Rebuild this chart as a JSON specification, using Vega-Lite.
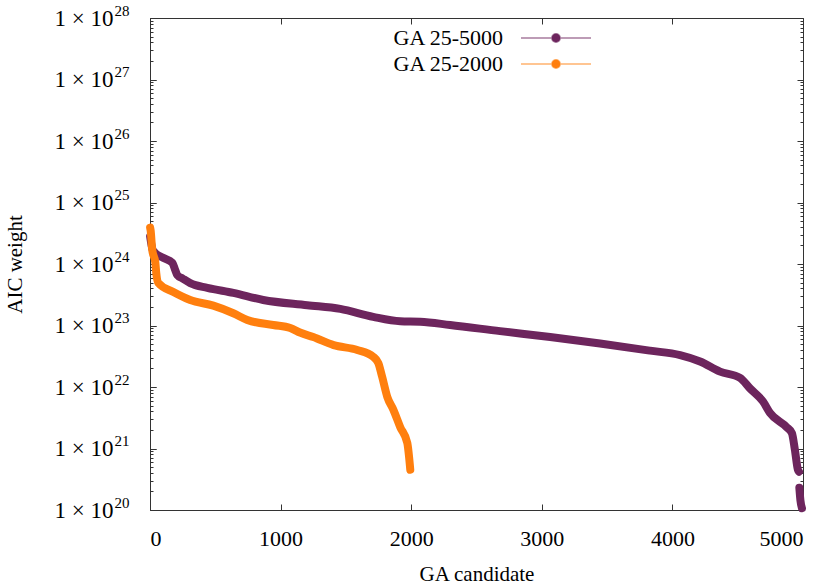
{
  "$schema": "https://vega.github.io/schema/vega-lite/v6.json",
  "autosize": "none",
  "width": 653,
  "height": 492,
  "padding": {"left": 150, "top": 18, "right": 27, "bottom": 76},
  "background": "white",
  "data": {
    "values": [
      {"series": "GA 25-5000", "x": 1, "w": 2.8e24},
      {"series": "GA 25-5000", "x": 20, "w": 1.7e24},
      {"series": "GA 25-5000", "x": 41, "w": 1.5e24},
      {"series": "GA 25-5000", "x": 100, "w": 1.26e24},
      {"series": "GA 25-5000", "x": 171, "w": 1.05e24},
      {"series": "GA 25-5000", "x": 190, "w": 8.3e23},
      {"series": "GA 25-5000", "x": 209, "w": 6.6e23},
      {"series": "GA 25-5000", "x": 250, "w": 5.8e23},
      {"series": "GA 25-5000", "x": 308, "w": 4.9e23},
      {"series": "GA 25-5000", "x": 439, "w": 4.1e23},
      {"series": "GA 25-5000", "x": 638, "w": 3.4e23},
      {"series": "GA 25-5000", "x": 867, "w": 2.6e23},
      {"series": "GA 25-5000", "x": 1204, "w": 2.14e23},
      {"series": "GA 25-5000", "x": 1457, "w": 1.86e23},
      {"series": "GA 25-5000", "x": 1709, "w": 1.38e23},
      {"series": "GA 25-5000", "x": 1916, "w": 1.17e23},
      {"series": "GA 25-5000", "x": 2069, "w": 1.15e23},
      {"series": "GA 25-5000", "x": 2298, "w": 1.02e23},
      {"series": "GA 25-5000", "x": 2681, "w": 8.1e22},
      {"series": "GA 25-5000", "x": 3064, "w": 6.5e22},
      {"series": "GA 25-5000", "x": 3446, "w": 5.1e22},
      {"series": "GA 25-5000", "x": 3829, "w": 3.9e22},
      {"series": "GA 25-5000", "x": 4059, "w": 3.3e22},
      {"series": "GA 25-5000", "x": 4212, "w": 2.6e22},
      {"series": "GA 25-5000", "x": 4365, "w": 1.78e22},
      {"series": "GA 25-5000", "x": 4518, "w": 1.41e22},
      {"series": "GA 25-5000", "x": 4594, "w": 9.5e21},
      {"series": "GA 25-5000", "x": 4694, "w": 5.8e21},
      {"series": "GA 25-5000", "x": 4747, "w": 3.8e21},
      {"series": "GA 25-5000", "x": 4877, "w": 2.2e21},
      {"series": "GA 25-5000", "x": 4915, "w": 1.78e21},
      {"series": "GA 25-5000", "x": 4938, "w": 9.5e20},
      {"series": "GA 25-5000", "x": 4961, "w": 4.5e20},
      {"series": "GA 25-5000", "x": 4969, "w": 4.2e20},
      {"series": "GA 25-5000", "x": 4970, "w": null},
      {"series": "GA 25-5000", "x": 4972, "w": 2.3e20},
      {"series": "GA 25-5000", "x": 4980, "w": 1.45e20},
      {"series": "GA 25-5000", "x": 4992, "w": 1.07e20},
      {"series": "GA 25-2000", "x": 1, "w": 3.9e24},
      {"series": "GA 25-2000", "x": 5, "w": 3.5e24},
      {"series": "GA 25-2000", "x": 17, "w": 1.7e24},
      {"series": "GA 25-2000", "x": 41, "w": 1.05e24},
      {"series": "GA 25-2000", "x": 48, "w": 7.1e23},
      {"series": "GA 25-2000", "x": 64, "w": 4.9e23},
      {"series": "GA 25-2000", "x": 179, "w": 3.5e23},
      {"series": "GA 25-2000", "x": 308, "w": 2.6e23},
      {"series": "GA 25-2000", "x": 485, "w": 2.1e23},
      {"series": "GA 25-2000", "x": 638, "w": 1.58e23},
      {"series": "GA 25-2000", "x": 745, "w": 1.23e23},
      {"series": "GA 25-2000", "x": 944, "w": 1.02e23},
      {"series": "GA 25-2000", "x": 1074, "w": 9.1e22},
      {"series": "GA 25-2000", "x": 1153, "w": 7.6e22},
      {"series": "GA 25-2000", "x": 1250, "w": 6.5e22},
      {"series": "GA 25-2000", "x": 1406, "w": 4.8e22},
      {"series": "GA 25-2000", "x": 1587, "w": 4.0e22},
      {"series": "GA 25-2000", "x": 1709, "w": 3.1e22},
      {"series": "GA 25-2000", "x": 1748, "w": 2.45e22},
      {"series": "GA 25-2000", "x": 1778, "w": 1.45e22},
      {"series": "GA 25-2000", "x": 1817, "w": 6.9e21},
      {"series": "GA 25-2000", "x": 1863, "w": 4.3e21},
      {"series": "GA 25-2000", "x": 1917, "w": 2.2e21},
      {"series": "GA 25-2000", "x": 1970, "w": 1.23e21},
      {"series": "GA 25-2000", "x": 1993, "w": 4.5e20}
    ]
  },
  "encoding": {
    "x": {"field": "x", "type": "quantitative", "scale": {"domain": [0, 5000], "nice": false, "zero": false}},
    "y": {"field": "w", "type": "quantitative", "scale": {"type": "log", "domain": [1e20, 1e28], "nice": false}},
    "color": {
      "field": "series",
      "type": "nominal",
      "sort": ["GA 25-5000", "GA 25-2000"],
      "scale": {"domain": ["GA 25-5000", "GA 25-2000"], "range": ["#6d255d", "#ff7f0e"]},
      "legend": {
        "encode": {
          "symbols": {"update": {"fill": {"scale": "color", "field": "value"}, "strokeOpacity": {"value": 0.6}}}
        }
      }
    }
  },
  "layer": [
    {
      "mark": {"type": "line", "strokeWidth": 8, "strokeCap": "round", "strokeJoin": "round", "interpolate": "monotone"},
      "encoding": {
        "x": {
          "field": "x", "type": "quantitative", "title": "GA candidate",
          "axis": {"orient": "bottom", "values": [0, 1000, 2000, 3000, 4000, 5000], "format": "d", "tickSize": -6, "labelPadding": 24, "titlePadding": 14}
        },
        "y": {
          "field": "w", "type": "quantitative", "title": "AIC weight",
          "axis": {
            "orient": "left",
            "values": [1e20, 1e21, 1e22, 1e23, 1e24, 1e25, 1e26, 1e27, 1e28],
            "tickSize": -6,
            "labelExpr": "'1 × 10'",
            "labelFontSize": 23,
            "labelPadding": 43,
            "titlePadding": 29
          }
        }
      }
    },
    {
      "mark": {"type": "line", "opacity": 0},
      "encoding": {
        "x": {
          "field": "x", "type": "quantitative",
          "axis": {"orient": "top", "values": [0, 1000, 2000, 3000, 4000, 5000], "tickSize": -6, "labels": false, "title": null}
        },
        "y": {
          "field": "w", "type": "quantitative",
          "axis": {
            "orient": "right",
            "values": [1e20, 2e20, 3e20, 4e20, 5e20, 6e20, 7e20, 8e20, 9e20,
                       1e21, 2e21, 3e21, 4e21, 5e21, 6e21, 7e21, 8e21, 9e21,
                       1e22, 2e22, 3e22, 4e22, 5e22, 6e22, 7e22, 8e22, 9e22,
                       1e23, 2e23, 3e23, 4e23, 5e23, 6e23, 7e23, 8e23, 9e23,
                       1e24, 2e24, 3e24, 4e24, 5e24, 6e24, 7e24, 8e24, 9e24,
                       1e25, 2e25, 3e25, 4e25, 5e25, 6e25, 7e25, 8e25, 9e25,
                       1e26, 2e26, 3e26, 4e26, 5e26, 6e26, 7e26, 8e26, 9e26,
                       1e27, 2e27, 3e27, 4e27, 5e27, 6e27, 7e27, 8e27, 9e27, 1e28],
            "tickSize": {"condition": {"test": "abs(log(datum.value)/LN10 - round(log(datum.value)/LN10)) < 0.001", "value": -6}, "value": -3},
            "labels": false,
            "title": null
          }
        }
      }
    },
    {
      "mark": {"type": "line", "opacity": 0},
      "encoding": {
        "x": {"field": "x", "type": "quantitative", "axis": null},
        "y": {
          "field": "w", "type": "quantitative",
          "axis": {
            "orient": "left",
            "values": [1e20, 2e20, 3e20, 4e20, 5e20, 6e20, 7e20, 8e20, 9e20,
                       1e21, 2e21, 3e21, 4e21, 5e21, 6e21, 7e21, 8e21, 9e21,
                       1e22, 2e22, 3e22, 4e22, 5e22, 6e22, 7e22, 8e22, 9e22,
                       1e23, 2e23, 3e23, 4e23, 5e23, 6e23, 7e23, 8e23, 9e23,
                       1e24, 2e24, 3e24, 4e24, 5e24, 6e24, 7e24, 8e24, 9e24,
                       1e25, 2e25, 3e25, 4e25, 5e25, 6e25, 7e25, 8e25, 9e25,
                       1e26, 2e26, 3e26, 4e26, 5e26, 6e26, 7e26, 8e26, 9e26,
                       1e27, 2e27, 3e27, 4e27, 5e27, 6e27, 7e27, 8e27, 9e27, 1e28],
            "tickSize": {"condition": {"test": "abs(log(datum.value)/LN10 - round(log(datum.value)/LN10)) < 0.001", "value": -6}, "value": -3},
            "labelExpr": "abs(log(datum.value)/LN10 - round(log(datum.value)/LN10)) < 0.001 ? format(round(log(datum.value)/LN10), 'd') : ''",
            "labelFontSize": 15,
            "labelOffset": -8,
            "labelPadding": 27,
            "labelOverlap": false,
            "domain": false,
            "title": null
          }
        }
      }
    }
  ],
  "resolve": {"axis": {"x": "independent", "y": "independent"}},
  "config": {
    "view": {"stroke": null},
    "font": "Liberation Serif",
    "axis": {
      "grid": false,
      "domainColor": "#333333",
      "domainWidth": 1,
      "tickColor": "#333333",
      "tickWidth": 1,
      "labelFont": "Liberation Serif",
      "labelFontSize": 22,
      "labelColor": "black",
      "titleFont": "Liberation Serif",
      "titleFontSize": 21,
      "titleFontWeight": "normal",
      "titleColor": "black"
    },
    "legend": {
      "orient": "none",
      "legendX": 395,
      "legendY": 9,
      "title": null,
      "symbolType": "M-5,0H5M0.6,0A0.6,0.6 0 1,1 -0.6,0A0.6,0.6 0 1,1 0.6,0",
      "symbolSize": 196,
      "symbolStrokeWidth": 1.5,
      "labelAlign": "right",
      "labelOffset": -64,
      "labelFont": "Liberation Serif",
      "labelFontSize": 22,
      "labelColor": "black",
      "rowPadding": 4,
      "padding": 0
    }
  }
}
